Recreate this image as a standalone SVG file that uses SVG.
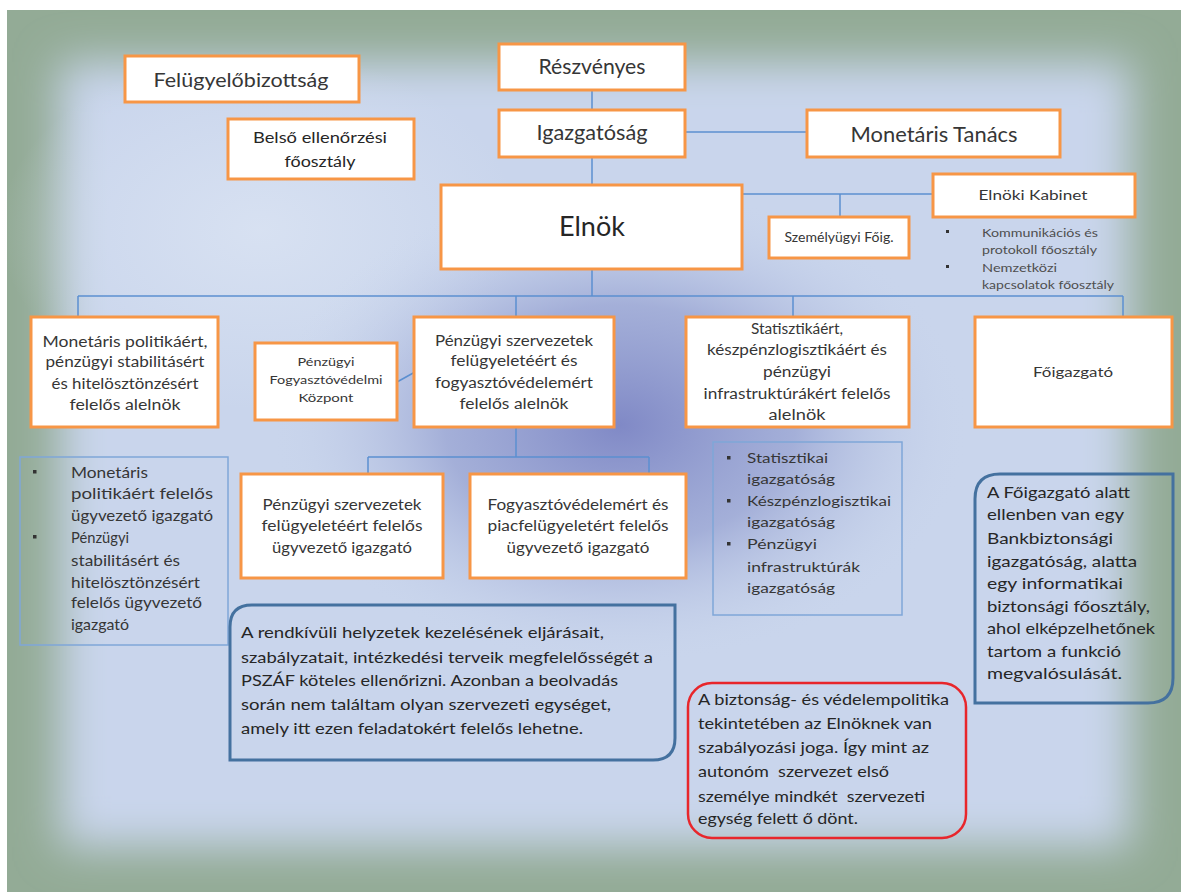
<svg xmlns="http://www.w3.org/2000/svg" width="1181" height="892" viewBox="0 0 1181 892">
<defs>
<style>
.box{fill:#ffffff;stroke:#f79646;stroke-width:3}
.t{font-family:Lato,"Liberation Sans",sans-serif;fill:#363636}
.m{text-anchor:middle}
.g{fill:#4f4f4f}
.d{fill:#262626}
.c{stroke:#5b8fd0;stroke-width:1.5;fill:none}
.bl{fill:none;stroke:#7fa6d8;stroke-width:1.5}
.call{fill:none;stroke:#44719f;stroke-width:3}
.red{fill:none;stroke:#e8262b;stroke-width:2.5}
.bu{fill:#333}
</style>
<filter id="blur" x="-10%" y="-10%" width="120%" height="120%"><feGaussianBlur stdDeviation="22"/></filter>
<radialGradient id="dark" cx="0.5" cy="0.5" r="0.5">
<stop offset="0" stop-color="#8089c6" stop-opacity="1"/>
<stop offset="0.5" stop-color="#949fd0" stop-opacity="0.7"/>
<stop offset="1" stop-color="#c9d5ec" stop-opacity="0"/>
</radialGradient>
<radialGradient id="light" cx="0.5" cy="0.5" r="0.5">
<stop offset="0" stop-color="#dbe4f3" stop-opacity="0.8"/>
<stop offset="1" stop-color="#dbe4f3" stop-opacity="0"/>
</radialGradient>
</defs>
<rect width="1181" height="892" fill="#ffffff"/>
<rect x="7" y="10" width="1174" height="882" fill="#93ab96"/>
<rect x="60" y="62" width="1070" height="785" fill="#c9d5ec" filter="url(#blur)"/>
<ellipse cx="260" cy="230" rx="260" ry="180" fill="url(#light)"/>
<ellipse cx="620" cy="425" rx="350" ry="240" fill="url(#dark)"/>

<g id="connectors">
<line class="c" x1="592" y1="90" x2="592" y2="110"/>
<line class="c" x1="592" y1="157" x2="592" y2="185"/>
<line class="c" x1="685" y1="132" x2="807" y2="132"/>
<line class="c" x1="742" y1="194" x2="933" y2="194"/>
<line class="c" x1="840" y1="194" x2="840" y2="217"/>
<line class="c" x1="592" y1="269" x2="592" y2="296"/>
<line class="c" x1="78" y1="296" x2="1123" y2="296"/>
<line class="c" x1="78" y1="296" x2="78" y2="317"/>
<line class="c" x1="516" y1="296" x2="516" y2="317"/>
<line class="c" x1="793" y1="296" x2="793" y2="317"/>
<line class="c" x1="1123" y1="296" x2="1123" y2="317"/>
<line class="c" x1="516" y1="427" x2="516" y2="457"/>
<line class="c" x1="368" y1="457" x2="649" y2="457"/>
<line class="c" x1="368" y1="457" x2="368" y2="474"/>
<line class="c" x1="649" y1="457" x2="649" y2="474"/>
<line class="c" x1="397" y1="382" x2="415" y2="372"/>
</g>

<g id="felugyelobizottsag">
<rect class="box" x="125" y="56" width="234" height="46"/>
<text class="t m" x="241" y="87" font-size="19" textLength="175" lengthAdjust="spacingAndGlyphs">Felügyelőbizottság</text>
</g>
<g id="belso-ellenorzesi">
<rect class="box" x="228" y="119" width="186" height="60"/>
<text class="t m d" x="320" y="143" font-size="14.5" textLength="134" lengthAdjust="spacingAndGlyphs">Belső ellenőrzési</text>
<text class="t m d" x="320" y="167" font-size="14.5" textLength="71" lengthAdjust="spacingAndGlyphs">főosztály</text>
</g>
<g id="reszvenyes">
<rect class="box" x="499" y="44" width="186" height="46"/>
<text class="t m" x="592" y="74" font-size="21" textLength="107" lengthAdjust="spacingAndGlyphs">Részvényes</text>
</g>
<g id="igazgatosag">
<rect class="box" x="499" y="110" width="186" height="47"/>
<text class="t m" x="592" y="140" font-size="21" textLength="111" lengthAdjust="spacingAndGlyphs">Igazgatóság</text>
</g>
<g id="monetaris-tanacs">
<rect class="box" x="807" y="110" width="253" height="47"/>
<text class="t m" x="934" y="142" font-size="22" textLength="167" lengthAdjust="spacingAndGlyphs">Monetáris Tanács</text>
</g>
<g id="elnok">
<rect class="box" x="441" y="185" width="301" height="84"/>
<text class="t m d" x="592" y="236" font-size="26" textLength="66" lengthAdjust="spacingAndGlyphs">Elnök</text>
</g>
<g id="elnoki-kabinet">
<rect class="box" x="933" y="174" width="202" height="43"/>
<text class="t m" x="1033" y="200" font-size="14" textLength="109" lengthAdjust="spacingAndGlyphs">Elnöki Kabinet</text>
<rect class="bu" x="946" y="230" width="3" height="3"/>
<rect class="bu" x="946" y="265" width="3" height="3"/>
<text class="t g" x="982" y="237" font-size="12" textLength="116" lengthAdjust="spacingAndGlyphs">Kommunikációs és</text>
<text class="t g" x="982" y="254" font-size="12" textLength="115" lengthAdjust="spacingAndGlyphs">protokoll főosztály</text>
<text class="t g" x="982" y="272" font-size="12" textLength="75" lengthAdjust="spacingAndGlyphs">Nemzetközi</text>
<text class="t g" x="982" y="289" font-size="12" textLength="132" lengthAdjust="spacingAndGlyphs">kapcsolatok főosztály</text>
</g>
<g id="szemelyugyi">
<rect class="box" x="769" y="217" width="140" height="41"/>
<text class="t m" x="839" y="242" font-size="13" textLength="109" lengthAdjust="spacingAndGlyphs">Személyügyi Főig.</text>
</g>

<g id="monetaris-alelnok">
<rect class="box" x="31" y="317" width="187" height="110"/>
<text class="t m" x="125" y="347" font-size="14.5" textLength="165" lengthAdjust="spacingAndGlyphs">Monetáris politikáért,</text>
<text class="t m" x="125" y="367" font-size="14.5" textLength="159" lengthAdjust="spacingAndGlyphs">pénzügyi stabilitásért</text>
<text class="t m" x="125" y="389" font-size="14.5" textLength="147" lengthAdjust="spacingAndGlyphs">és hitelösztönzésért</text>
<text class="t m" x="125" y="410" font-size="14.5" textLength="111" lengthAdjust="spacingAndGlyphs">felelős alelnök</text>
</g>
<g id="penzugyi-fogyasztovedelmi-kozpont">
<rect class="box" x="255" y="343" width="142" height="77"/>
<text class="t m" x="326" y="366" font-size="11.5" textLength="57" lengthAdjust="spacingAndGlyphs">Pénzügyi</text>
<text class="t m" x="326" y="384" font-size="11.5" textLength="113" lengthAdjust="spacingAndGlyphs">Fogyasztóvédelmi</text>
<text class="t m" x="326" y="402" font-size="11.5" textLength="55" lengthAdjust="spacingAndGlyphs">Központ</text>
</g>
<g id="penzugyi-szervezetek-alelnok">
<rect class="box" x="414" y="317" width="200" height="110"/>
<text class="t m" x="514" y="346" font-size="14.5" textLength="158" lengthAdjust="spacingAndGlyphs">Pénzügyi szervezetek</text>
<text class="t m" x="514" y="366" font-size="14.5" textLength="127" lengthAdjust="spacingAndGlyphs">felügyeletéért és</text>
<text class="t m" x="514" y="388" font-size="14.5" textLength="158" lengthAdjust="spacingAndGlyphs">fogyasztóvédelemért</text>
<text class="t m" x="514" y="409" font-size="14.5" textLength="109" lengthAdjust="spacingAndGlyphs">felelős alelnök</text>
</g>
<g id="statisztikaert-alelnok">
<rect class="box" x="686" y="317" width="223" height="110"/>
<text class="t m" x="797" y="334" font-size="14.5" textLength="92" lengthAdjust="spacingAndGlyphs">Statisztikáért,</text>
<text class="t m" x="797" y="355" font-size="14.5" textLength="180" lengthAdjust="spacingAndGlyphs">készpénzlogisztikáért és</text>
<text class="t m" x="797" y="377" font-size="14.5" textLength="68" lengthAdjust="spacingAndGlyphs">pénzügyi</text>
<text class="t m" x="797" y="399" font-size="14.5" textLength="187" lengthAdjust="spacingAndGlyphs">infrastruktúrákért felelős</text>
<text class="t m" x="797" y="420" font-size="14.5" textLength="57" lengthAdjust="spacingAndGlyphs">alelnök</text>
</g>
<g id="foigazgato">
<rect class="box" x="975" y="317" width="197" height="110"/>
<text class="t m" x="1073" y="377" font-size="13" textLength="80" lengthAdjust="spacingAndGlyphs">Főigazgató</text>
</g>

<g id="monetaris-ugyvezetok">
<rect class="bl" x="20" y="457" width="208" height="188"/>
<rect class="bu" x="33" y="470" width="3.5" height="3.5"/>
<rect class="bu" x="33" y="535" width="3.5" height="3.5"/>
<text class="t" x="71" y="478" font-size="15" textLength="77" lengthAdjust="spacingAndGlyphs">Monetáris</text>
<text class="t" x="71" y="499" font-size="15" textLength="142" lengthAdjust="spacingAndGlyphs">politikáért felelős</text>
<text class="t" x="71" y="521" font-size="15" textLength="142" lengthAdjust="spacingAndGlyphs">ügyvezető igazgató</text>
<text class="t" x="71" y="543" font-size="15" textLength="58" lengthAdjust="spacingAndGlyphs">Pénzügyi</text>
<text class="t" x="71" y="566" font-size="15" textLength="109" lengthAdjust="spacingAndGlyphs">stabilitásért és</text>
<text class="t" x="71" y="588" font-size="15" textLength="129" lengthAdjust="spacingAndGlyphs">hitelösztönzésért</text>
<text class="t" x="71" y="608" font-size="15" textLength="131" lengthAdjust="spacingAndGlyphs">felelős ügyvezető</text>
<text class="t" x="71" y="630" font-size="15" textLength="58" lengthAdjust="spacingAndGlyphs">igazgató</text>
</g>
<g id="penzugyi-szervezetek-ugyvezeto">
<rect class="box" x="241" y="474" width="202" height="104"/>
<text class="t m" x="342" y="510" font-size="14.5" textLength="159" lengthAdjust="spacingAndGlyphs">Pénzügyi szervezetek</text>
<text class="t m" x="342" y="531" font-size="14.5" textLength="161" lengthAdjust="spacingAndGlyphs">felügyeletéért felelős</text>
<text class="t m" x="342" y="553" font-size="14.5" textLength="140" lengthAdjust="spacingAndGlyphs">ügyvezető igazgató</text>
</g>
<g id="fogyasztovedelemert-ugyvezeto">
<rect class="box" x="470" y="474" width="216" height="104"/>
<text class="t m" x="578" y="510" font-size="14.5" textLength="181" lengthAdjust="spacingAndGlyphs">Fogyasztóvédelemért és</text>
<text class="t m" x="578" y="531" font-size="14.5" textLength="181" lengthAdjust="spacingAndGlyphs">piacfelügyeletért felelős</text>
<text class="t m" x="578" y="553" font-size="14.5" textLength="143" lengthAdjust="spacingAndGlyphs">ügyvezető igazgató</text>
</g>
<g id="statisztikai-igazgatosagok">
<rect class="bl" x="713" y="442" width="189" height="173"/>
<rect class="bu" x="727" y="456" width="3.5" height="3.5"/>
<rect class="bu" x="727" y="499" width="3.5" height="3.5"/>
<rect class="bu" x="727" y="542" width="3.5" height="3.5"/>
<text class="t" x="747" y="463" font-size="14" textLength="81" lengthAdjust="spacingAndGlyphs">Statisztikai</text>
<text class="t" x="747" y="484" font-size="14" textLength="88" lengthAdjust="spacingAndGlyphs">igazgatóság</text>
<text class="t" x="747" y="506" font-size="14" textLength="144" lengthAdjust="spacingAndGlyphs">Készpénzlogisztikai</text>
<text class="t" x="747" y="527" font-size="14" textLength="88" lengthAdjust="spacingAndGlyphs">igazgatóság</text>
<text class="t" x="747" y="549" font-size="14" textLength="70" lengthAdjust="spacingAndGlyphs">Pénzügyi</text>
<text class="t" x="747" y="572" font-size="14" textLength="113" lengthAdjust="spacingAndGlyphs">infrastruktúrák</text>
<text class="t" x="747" y="593" font-size="14" textLength="88" lengthAdjust="spacingAndGlyphs">igazgatóság</text>
</g>

<g id="rendkivuli-megjegyzes">
<path class="call" d="M252,605 H675 V738 Q675,760 653,760 H230 V627 Q230,605 252,605 Z"/>
<text class="t d" x="241" y="638" font-size="15" textLength="363" lengthAdjust="spacingAndGlyphs">A rendkívüli helyzetek kezelésének eljárásait,</text>
<text class="t d" x="241" y="663" font-size="15" textLength="412" lengthAdjust="spacingAndGlyphs">szabályzatait, intézkedési terveik megfelelősségét a</text>
<text class="t d" x="241" y="686" font-size="15" textLength="377" lengthAdjust="spacingAndGlyphs">PSZÁF köteles ellenőrizni. Azonban a beolvadás</text>
<text class="t d" x="241" y="710" font-size="15" textLength="370" lengthAdjust="spacingAndGlyphs">során nem találtam olyan szervezeti egységet,</text>
<text class="t d" x="241" y="734" font-size="15" textLength="342" lengthAdjust="spacingAndGlyphs">amely itt ezen feladatokért felelős lehetne.</text>
</g>
<g id="foigazgato-megjegyzes">
<path class="call" d="M1000,474 H1173 V678 Q1173,703 1148,703 H975 V499 Q975,474 1000,474 Z"/>
<text class="t d" x="987" y="498" font-size="15" textLength="143" lengthAdjust="spacingAndGlyphs">A Főigazgató alatt</text>
<text class="t d" x="987" y="520" font-size="15" textLength="137" lengthAdjust="spacingAndGlyphs">ellenben van egy</text>
<text class="t d" x="987" y="544" font-size="15" textLength="126" lengthAdjust="spacingAndGlyphs">Bankbiztonsági</text>
<text class="t d" x="987" y="567" font-size="15" textLength="150" lengthAdjust="spacingAndGlyphs">igazgatóság, alatta</text>
<text class="t d" x="987" y="589" font-size="15" textLength="136" lengthAdjust="spacingAndGlyphs">egy informatikai</text>
<text class="t d" x="987" y="612" font-size="15" textLength="163" lengthAdjust="spacingAndGlyphs">biztonsági főosztály,</text>
<text class="t d" x="987" y="634" font-size="15" textLength="168" lengthAdjust="spacingAndGlyphs">ahol elképzelhetőnek</text>
<text class="t d" x="987" y="657" font-size="15" textLength="134" lengthAdjust="spacingAndGlyphs">tartom a funkció</text>
<text class="t d" x="987" y="679" font-size="15" textLength="135" lengthAdjust="spacingAndGlyphs">megvalósulását.</text>
</g>
<g id="biztonsag-megjegyzes">
<rect class="red" x="688" y="683" width="278" height="155" rx="24"/>
<text class="t d" x="698" y="705" font-size="15" textLength="251" lengthAdjust="spacingAndGlyphs">A biztonság- és védelempolitika</text>
<text class="t d" x="698" y="729" font-size="15" textLength="234" lengthAdjust="spacingAndGlyphs">tekintetében az Elnöknek van</text>
<text class="t d" x="698" y="753" font-size="15" textLength="231" lengthAdjust="spacingAndGlyphs">szabályozási joga. Így mint az</text>
<text class="t d" x="698" y="777" font-size="15" textLength="191" lengthAdjust="spacingAndGlyphs" xml:space="preserve">autonóm  szervezet első</text>
<text class="t d" x="698" y="802" font-size="15" textLength="227" lengthAdjust="spacingAndGlyphs" xml:space="preserve">személye mindkét  szervezeti</text>
<text class="t d" x="698" y="824" font-size="15" textLength="160" lengthAdjust="spacingAndGlyphs">egység felett ő dönt.</text>
</g>
</svg>
